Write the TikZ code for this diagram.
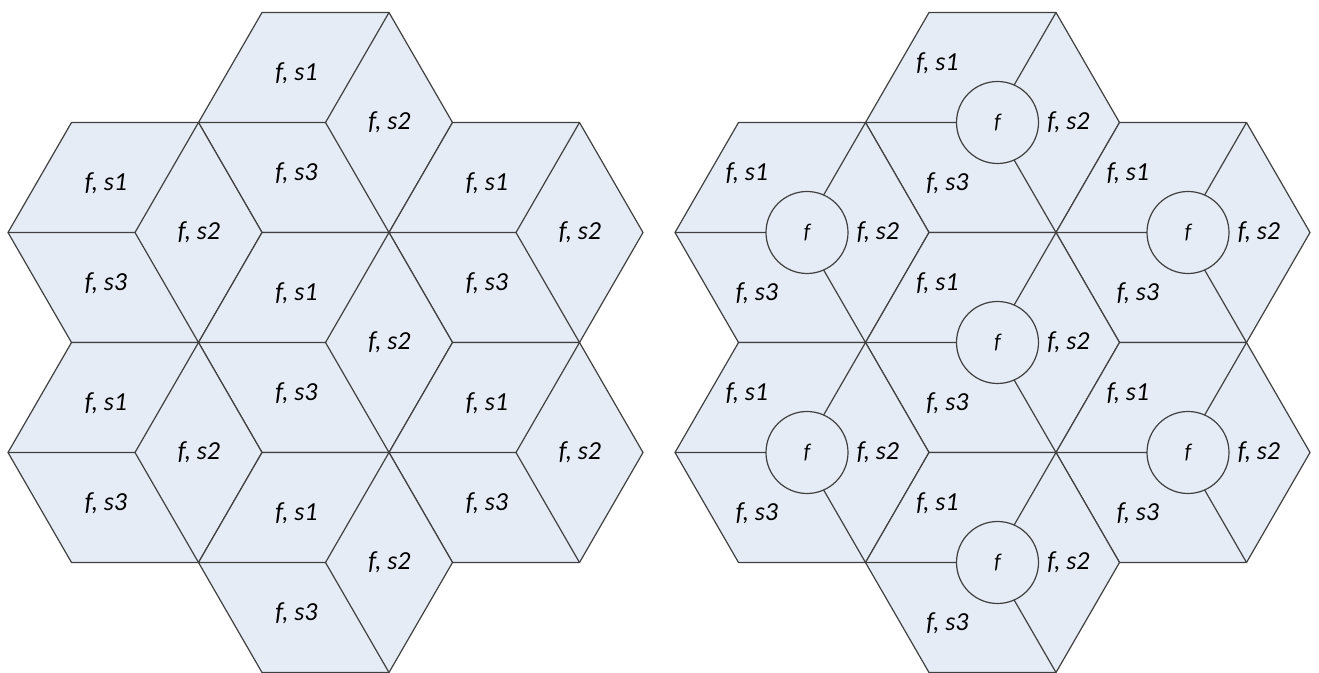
\documentclass[tikz,border=0pt]{standalone}
\usepackage{fontspec}
\setmainfont{Carlito}
\usepackage{tikz}
\usetikzlibrary{calc}
\definecolor{cellblue}{RGB}{230,236,246}
\definecolor{linegray}{RGB}{64,64,64}

\begin{document}
\begin{tikzpicture}[x=0.5pt,y=-0.5pt,line width=0.6pt]
        \tikzstyle{hex} = [draw=linegray, fill=cellblue, line join=round]
        \tikzstyle{split} = [draw=linegray]
        \tikzstyle{sector} = [inner sep=0pt, font=\fontsize{13}{15}\selectfont\itshape]
        \tikzstyle{bs} = [circle, draw=linegray, fill=cellblue, minimum size=41pt, inner sep=0pt, font=\fontsize{10.5}{12}\selectfont\itshape]

        \useasboundingbox (0,0) rectangle (1319,673);

        % Left cluster: every cell cut into three sectors
        \foreach \cx/\cy [count=\i] in {325.5/122.5, 135/232.5, 516/232.5, 325.5/342.5, 135/452.5, 516/452.5, 325.5/562.5} {
            \begin{scope}[shift={(\cx,\cy)}]
                \coordinate (L\i) at (0,0);
                \coordinate (L\i-e) at (127,0);
                \coordinate (L\i-ne) at (63.5,-110);
                \coordinate (L\i-nw) at (-63.5,-110);
                \coordinate (L\i-w) at (-127,0);
                \coordinate (L\i-sw) at (-63.5,110);
                \coordinate (L\i-se) at (63.5,110);
                \draw[hex] (L\i-e) -- (L\i-ne) -- (L\i-nw) -- (L\i-w) -- (L\i-sw) -- (L\i-se) -- cycle;
                \draw[split] (L\i-w) -- (L\i) -- (L\i-ne);
                \draw[split] (L\i) -- (L\i-se);
                \node[sector] (L\i-s1) at (-29,-49) {f, s1};
                \node[sector] (L\i-s2) at (64,0) {f, s2};
                \node[sector] (L\i-s3) at (-29,51) {f, s3};
            \end{scope}
        }

        % Right cluster: same cells, one site in the middle of each
        \foreach \cx/\cy [count=\i] in {325.5/122.5, 135/232.5, 516/232.5, 325.5/342.5, 135/452.5, 516/452.5, 325.5/562.5} {
            \begin{scope}[shift={(\cx+667,\cy)}]
                \coordinate (R\i) at (0,0);
                \coordinate (R\i-e) at (127,0);
                \coordinate (R\i-ne) at (63.5,-110);
                \coordinate (R\i-nw) at (-63.5,-110);
                \coordinate (R\i-w) at (-127,0);
                \coordinate (R\i-sw) at (-63.5,110);
                \coordinate (R\i-se) at (63.5,110);
                \draw[hex] (R\i-e) -- (R\i-ne) -- (R\i-nw) -- (R\i-w) -- (R\i-sw) -- (R\i-se) -- cycle;
                \draw[split] (R\i-w) -- (R\i) -- (R\i-ne);
                \draw[split] (R\i) -- (R\i-se);
                \node[bs] (R\i-bs) at (5,0) {f};
                \node[sector] (R\i-s1) at (-55,-59) {f, s1};
                \node[sector] (R\i-s2) at (76,0) {f, s2};
                \node[sector] (R\i-s3) at (-45,61) {f, s3};
            \end{scope}
        }
\end{tikzpicture}
\end{document}
